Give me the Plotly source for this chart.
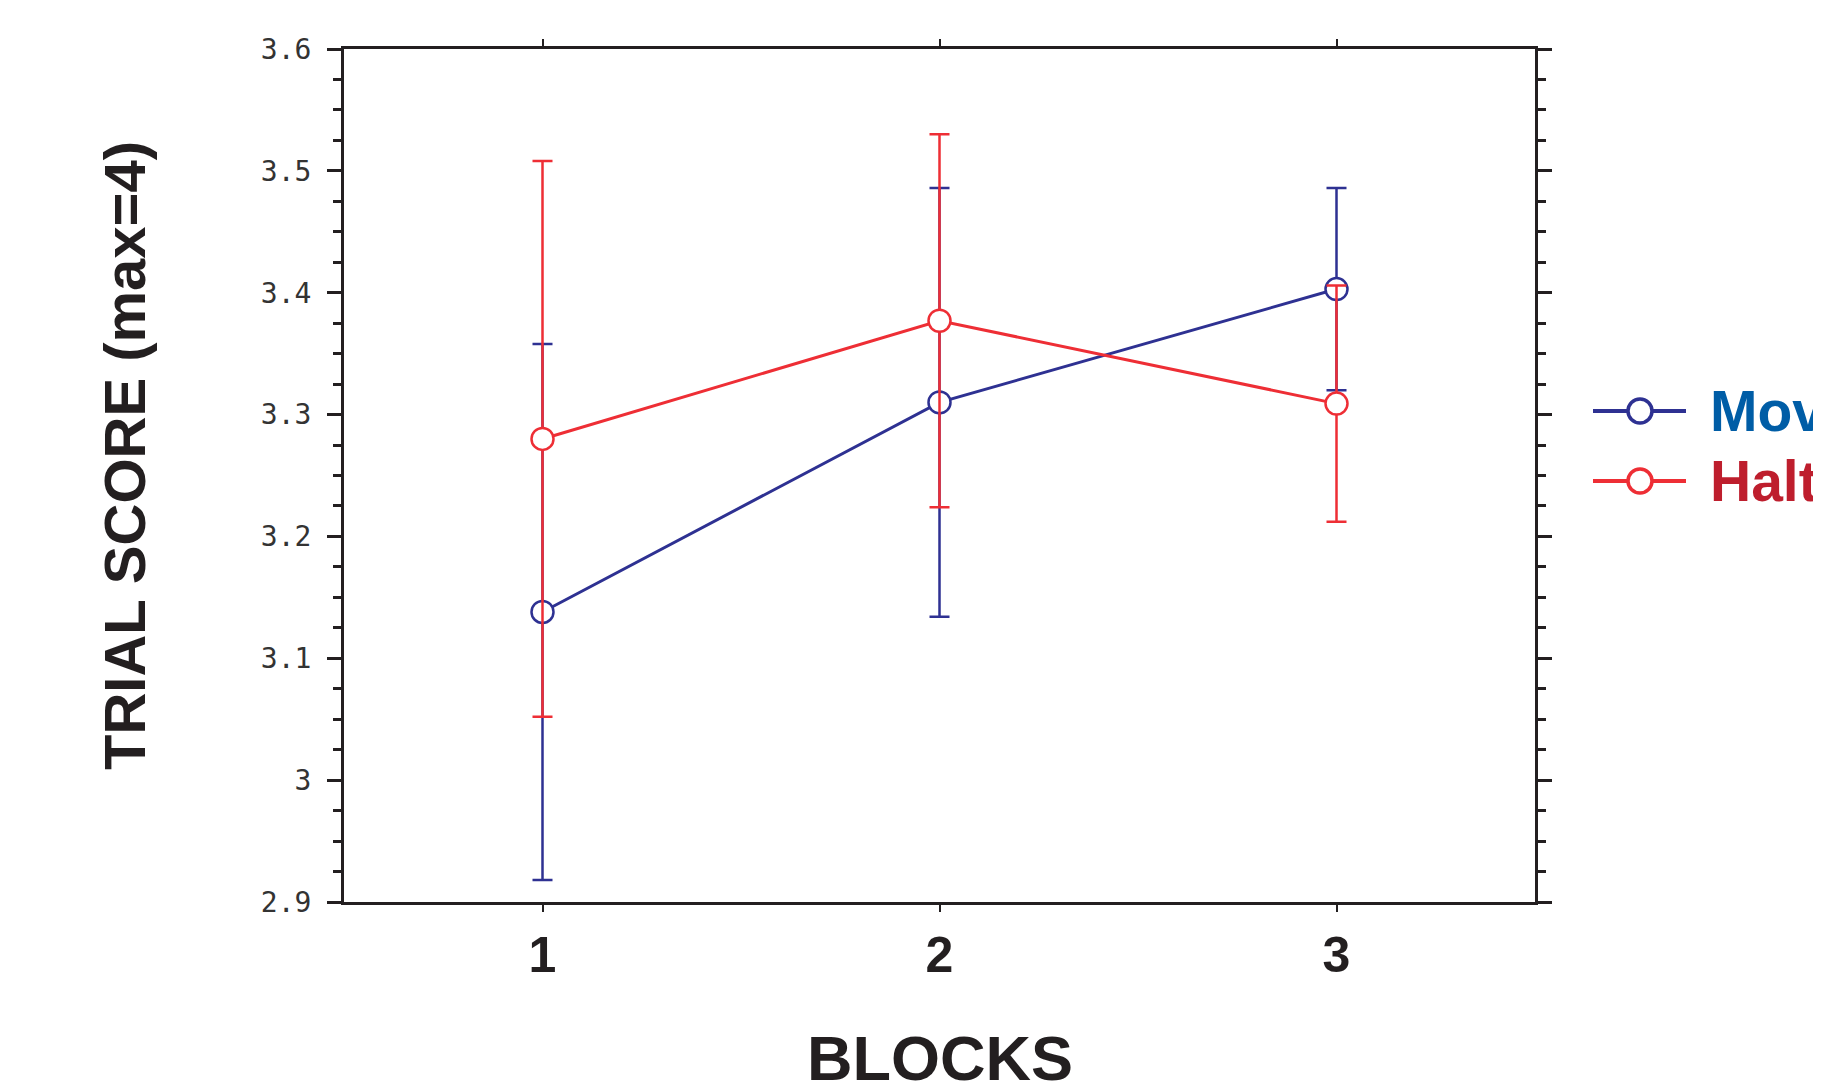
import plotly.graph_objects as go

# ---- data ----
blocks = [1, 2, 3]
move_mean = [3.138, 3.310, 3.403]
move_err = [0.220, 0.176, 0.083]
halt_mean = [3.280, 3.377, 3.309]
halt_err = [0.228, 0.153, 0.097]
series_names = ["Move", "Halt"]
y_ticks = [2.9, 3.0, 3.1, 3.2, 3.3, 3.4, 3.5, 3.6]
y_tick_labels = ["2.9", "3", "3.1", "3.2", "3.3", "3.4", "3.5", "3.6"]
x_tick_labels = ["1", "2", "3"]

BLUE = "#2E3192"
RED = "#EE2E35"
BLUE_TXT = "#005DA6"
RED_TXT = "#BE1E2D"
AXIS = "#231F20"

OFF = 8  # page body margin
W, H = 1821 - OFF, 1084 - OFF
L, R, T, B = 344 - OFF, 286, 49 - OFF, 182

fig = go.Figure()
for name, mean, err, col in [(series_names[0], move_mean, move_err, BLUE),
                             (series_names[1], halt_mean, halt_err, RED)]:
    fig.add_trace(go.Scatter(
        x=blocks, y=mean, name=name, mode="lines+markers",
        line=dict(color=col, width=3),
        marker=dict(symbol="circle", size=22, color="white",
                    line=dict(color=col, width=2.5)),
        error_y=dict(type="data", array=err, visible=True, color=col,
                     thickness=2.5, width=10),
        showlegend=False,
    ))

fig.update_xaxes(
    range=[0.5, 3.5], tickvals=blocks, ticktext=[f"<b>{t}</b>" for t in x_tick_labels],
    showline=True, linewidth=3, linecolor=AXIS, mirror="ticks",
    ticks="outside", ticklen=7, tickwidth=2, tickcolor=AXIS,
    showgrid=False, zeroline=False,
    tickfont=dict(family="Liberation Sans", size=50, color=AXIS),
)
fig.update_yaxes(
    range=[2.9, 3.6], tickvals=y_ticks, ticktext=y_tick_labels,
    showline=True, linewidth=3, linecolor=AXIS, mirror="ticks",
    ticks="outside", ticklen=14, tickwidth=3, tickcolor=AXIS,
    minor=dict(dtick=0.025, ticks="outside", ticklen=8, tickwidth=2.5,
               tickcolor=AXIS, showgrid=False),
    showgrid=False, zeroline=False, ticklabelstandoff=10,
    tickfont=dict(family="DejaVu Sans Mono", size=28, color="#333333"),
)

pw = W - L - R
ph = H - T - B
def px_to_paper_x(px):
    return (px - OFF - L) / pw
def px_to_paper_y(py):
    return 1 - (py - OFF - T) / ph

# axis titles
fig.add_annotation(xref="paper", yref="paper",
                   x=px_to_paper_x(124), y=px_to_paper_y(456),
                   xanchor="center", yanchor="middle", showarrow=False,
                   textangle=-90, text="<b>TRIAL SCORE (max=4)</b>",
                   font=dict(family="Liberation Sans", size=58, color=AXIS))
fig.add_annotation(xref="paper", yref="paper",
                   x=0.5, y=px_to_paper_y(1021),
                   xanchor="center", yanchor="top", showarrow=False,
                   text="<b>BLOCKS</b>",
                   font=dict(family="Liberation Sans", size=63, color=AXIS))

# legend glyphs (manual, drawn in paper coordinates)
legend_rows = [(series_names[0], BLUE, BLUE_TXT, 411), (series_names[1], RED, RED_TXT, 481)]
for name, col, tcol, yc in legend_rows:
    fig.add_shape(type="line", xref="paper", yref="paper",
                  x0=px_to_paper_x(1593), x1=px_to_paper_x(1686),
                  y0=px_to_paper_y(yc), y1=px_to_paper_y(yc),
                  line=dict(color=col, width=4))
    fig.add_shape(type="circle", xref="paper", yref="paper",
                  x0=px_to_paper_x(1628), x1=px_to_paper_x(1652),
                  y0=px_to_paper_y(yc + 12), y1=px_to_paper_y(yc - 12),
                  fillcolor="white", line=dict(color=col, width=3.5))
    fig.add_annotation(xref="paper", yref="paper",
                       x=px_to_paper_x(1708), y=px_to_paper_y(yc),
                       xanchor="left", yanchor="middle", showarrow=False,
                       text=f"<b>{name}</b>",
                       font=dict(family="Liberation Sans", size=57, color=tcol))

fig.update_layout(
    width=W, height=H,
    margin=dict(l=L, r=R, t=T, b=B, autoexpand=False),
    paper_bgcolor="white", plot_bgcolor="white",
    showlegend=False,
)

fig.write_html("out.html")
